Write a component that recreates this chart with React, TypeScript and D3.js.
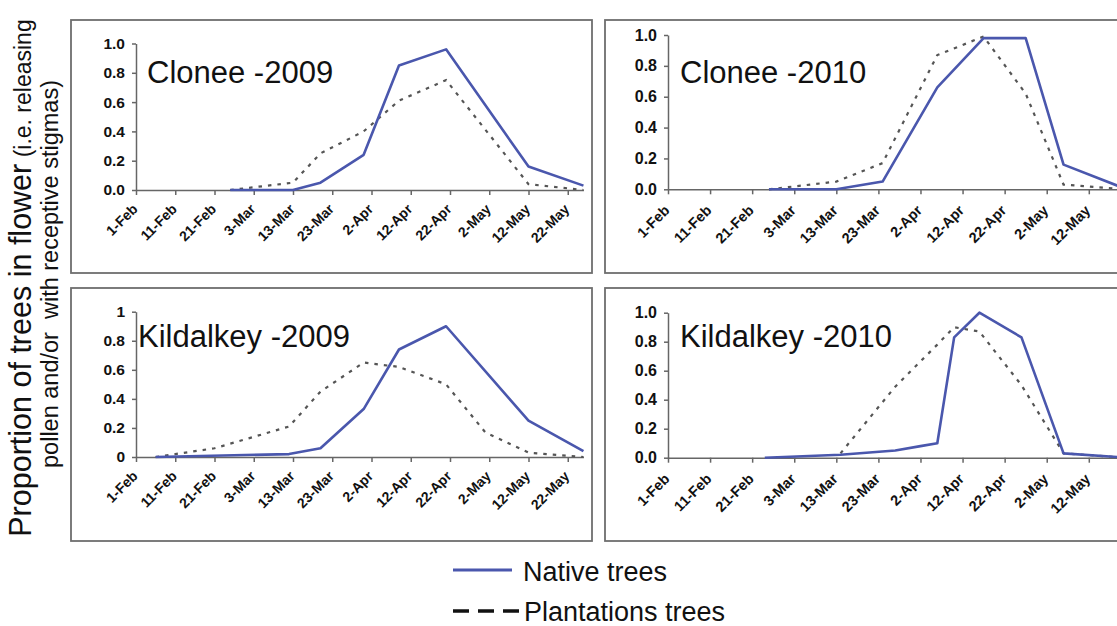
import React, { useEffect, useRef } from 'react';
import * as d3 from 'd3';

// x tick labels (every 10 days from 1-Feb)
const tickLabels = ['1-Feb', '11-Feb', '21-Feb', '3-Mar', '13-Mar', '23-Mar', '2-Apr', '12-Apr', '22-Apr', '2-May', '12-May', '22-May'];
const yTicks = [0, 0.2, 0.4, 0.6, 0.8, 1.0];

// Clonee 2009
const cloneeDates2009 = ['25-Feb', '13-Mar', '20-Mar', '31-Mar', '9-Apr', '21-Apr', '12-May', '26-May'];
const cloneeNative2009 = [0, 0, 0.05, 0.24, 0.85, 0.96, 0.16, 0.03];
const cloneePlant2009 = [0, 0.05, 0.25, 0.4, 0.61, 0.75, 0.04, 0.0];

// Clonee 2010
const cloneeDates2010 = ['25-Feb', '13-Mar', '24-Mar', '6-Apr', '17-Apr', '27-Apr', '6-May', '21-May'];
const cloneeNative2010 = [0, 0, 0.05, 0.66, 0.98, 0.98, 0.16, 0];
const cloneePlant2010 = [0, 0.05, 0.17, 0.87, 0.99, 0.62, 0.03, 0];

// Kildalkey 2009
const kildNativeDates2009 = ['6-Feb', '12-Mar', '20-Mar', '31-Mar', '9-Apr', '21-Apr', '12-May', '26-May'];
const kildNative2009 = [0, 0.02, 0.06, 0.33, 0.74, 0.9, 0.25, 0.04];
const kildPlantDates2009 = ['6-Feb', '11-Feb', '21-Feb', '12-Mar', '20-Mar', '31-Mar', '9-Apr', '21-Apr', '1-May', '12-May', '26-May'];
const kildPlant2009 = [0, 0.02, 0.06, 0.21, 0.45, 0.65, 0.62, 0.5, 0.17, 0.03, 0];

// Kildalkey 2010
const kildNativeDates2010 = ['24-Feb', '14-Mar', '27-Mar', '2-Apr', '6-Apr', '10-Apr', '16-Apr', '26-Apr', '6-May', '21-May'];
const kildNative2010 = [0, 0.02, 0.05, 0.08, 0.1, 0.83, 1.0, 0.83, 0.03, 0];
const kildPlantDates2010 = ['14-Mar', '27-Mar', '6-Apr', '10-Apr', '16-Apr', '26-Apr', '6-May', '21-May'];
const kildPlant2010 = [0.03, 0.49, 0.78, 0.9, 0.87, 0.5, 0.03, 0];

const FONT = '"Liberation Sans", Arial, Helvetica, sans-serif';
const NATIVE = '#4a57ad';
const PLANT = '#555';

// right-hand panels are cropped at the page edge, so their last tick label is not shown
const leftTicks = tickLabels;
const rightTicks = tickLabels.slice(0, 11);

const panels = [
  {
    title: 'Clonee -2009', year: 2009, ticks: leftTicks,
    nDates: cloneeDates2009, native: cloneeNative2009, pDates: cloneeDates2009, plant: cloneePlant2009,
    yFmt: '.1f', box: [71, 20, 521, 253], x0: 136, pxDay: 3.925, yTop: 43.5, yBot: 190,
    titleX: 147, titleY: 83, titleSize: 31, tickFont: 14, yFont: 15.5, labelDrop: 20,
  },
  {
    title: 'Clonee -2010', year: 2010, ticks: rightTicks,
    nDates: cloneeDates2010, native: cloneeNative2010, pDates: cloneeDates2010, plant: cloneePlant2010,
    yFmt: '.1f', box: [605, 20, 600, 253], x0: 668, pxDay: 4.208, yTop: 35, yBot: 189.3,
    titleX: 680, titleY: 83, titleSize: 31, tickFont: 14.5, yFont: 16, labelDrop: 22,
  },
  {
    title: 'Kildalkey -2009', year: 2009, ticks: leftTicks,
    nDates: kildNativeDates2009, native: kildNative2009, pDates: kildPlantDates2009, plant: kildPlant2009,
    yFmt: '~g', box: [71, 288, 521, 253], x0: 136, pxDay: 3.925, yTop: 311.7, yBot: 457,
    titleX: 138, titleY: 347, titleSize: 31, tickFont: 14, yFont: 15.5, labelDrop: 20,
  },
  {
    title: 'Kildalkey -2010', year: 2010, ticks: rightTicks,
    nDates: kildNativeDates2010, native: kildNative2010, pDates: kildPlantDates2010, plant: kildPlant2010,
    yFmt: '.1f', box: [605, 288, 600, 253], x0: 668, pxDay: 4.208, yTop: 312.7, yBot: 457.7,
    titleX: 680, titleY: 347, titleSize: 31, tickFont: 14.5, yFont: 16, labelDrop: 22,
  },
];

const parse = d3.timeParse('%d-%b-%Y');

export default function App() {
  const ref = useRef<SVGSVGElement | null>(null);

  useEffect(() => {
    const svg = d3.select(ref.current);
    svg.selectAll('*').remove();

    panels.forEach((p) => {
      const g = svg.append('g');
      const start = parse(`1-Feb-${p.year}`) as Date;
      const end = parse(`26-May-${p.year}`) as Date;
      const days = d3.timeDay.count(start, end);
      const x = d3.scaleTime().domain([start, end]).range([p.x0, p.x0 + days * p.pxDay]);
      const y = d3.scaleLinear().domain([0, 1]).range([p.yBot, p.yTop]);

      g.append('rect')
        .attr('x', p.box[0]).attr('y', p.box[1])
        .attr('width', p.box[2]).attr('height', p.box[3])
        .attr('fill', 'white').attr('stroke', '#6e6e6e').attr('stroke-width', 1.8);

      // x axis
      const xa = g.append('g')
        .attr('transform', `translate(0, ${p.yBot})`)
        .call(
          d3.axisBottom(x)
            .tickValues(p.ticks.map((t) => parse(`${t}-${p.year}`) as Date))
            .tickSize(5)
            .tickSizeOuter(0)
            .tickFormat(d3.timeFormat('%-d-%b') as any)
        );
      xa.select('.domain').attr('stroke', '#666').attr('stroke-width', 1.5);
      xa.selectAll('.tick line').attr('stroke', '#666').attr('stroke-width', 1.5);
      xa.selectAll('.tick text')
        .attr('x', 0).attr('y', 0).attr('dy', 0)
        .attr('text-anchor', 'end')
        .attr('transform', `translate(2, ${p.labelDrop}) rotate(-45)`)
        .style('font-family', FONT).style('font-weight', 'bold')
        .style('font-size', `${p.tickFont}px`).attr('fill', '#111');

      // y axis
      const ya = g.append('g')
        .attr('transform', `translate(${p.x0}, 0)`)
        .call(
          d3.axisLeft(y)
            .tickValues(yTicks)
            .tickSize(4)
            .tickSizeOuter(0)
            .tickPadding(7)
            .tickFormat(d3.format(p.yFmt) as any)
        );
      ya.select('.domain').attr('stroke', '#666').attr('stroke-width', 1.5);
      ya.selectAll('.tick line').attr('stroke', '#666').attr('stroke-width', 1.5);
      ya.selectAll('.tick text')
        .style('font-family', FONT).style('font-weight', 'bold')
        .style('font-size', `${p.yFont}px`).attr('fill', '#111');

      const line = d3.line<{ d: Date; v: number }>()
        .x((d) => x(d.d))
        .y((d) => y(d.v));

      const plantPts = p.pDates.map((t, i) => ({ d: parse(`${t}-${p.year}`) as Date, v: p.plant[i] }));
      const nativePts = p.nDates.map((t, i) => ({ d: parse(`${t}-${p.year}`) as Date, v: p.native[i] }));

      g.append('path')
        .datum(plantPts)
        .attr('d', line)
        .attr('fill', 'none')
        .attr('stroke', PLANT)
        .attr('stroke-width', 2.2)
        .attr('stroke-dasharray', '3.5 6');

      g.append('path')
        .datum(nativePts)
        .attr('d', line)
        .attr('fill', 'none')
        .attr('stroke', NATIVE)
        .attr('stroke-width', 2.6)
        .attr('stroke-linejoin', 'round');

      g.append('text')
        .attr('x', p.titleX).attr('y', p.titleY)
        .style('font-family', FONT).style('font-size', `${p.titleSize}px`)
        .attr('fill', '#111')
        .text(p.title);
    });

    // y axis title (two lines)
    const yt = svg.append('text')
      .attr('transform', 'translate(31, 278) rotate(-90)')
      .attr('text-anchor', 'middle')
      .style('font-family', FONT).attr('fill', '#111');
    yt.append('tspan').style('font-size', '30.5px').text('Proportion of trees in flower');
    yt.append('tspan').style('font-size', '23px').text(' (i.e. releasing');

    svg.append('text')
      .attr('transform', 'translate(58, 274) rotate(-90)')
      .attr('text-anchor', 'middle')
      .style('font-family', FONT).style('font-size', '23.5px').attr('fill', '#111')
      .style('white-space', 'pre')
      .text('pollen and/or  with receptive stigmas)');

    // legend
    const lg = svg.append('g');
    lg.append('line')
      .attr('x1', 453).attr('x2', 512).attr('y1', 570).attr('y2', 570)
      .attr('stroke', NATIVE).attr('stroke-width', 3);
    lg.append('text')
      .attr('x', 523).attr('y', 581)
      .style('font-family', FONT).style('font-size', '27px').attr('fill', '#111')
      .text('Native trees');
    lg.append('line')
      .attr('x1', 453).attr('x2', 520).attr('y1', 611).attr('y2', 611)
      .attr('stroke', '#111').attr('stroke-width', 3.5)
      .attr('stroke-dasharray', '16 9');
    lg.append('text')
      .attr('x', 524).attr('y', 621)
      .style('font-family', FONT).style('font-size', '27px').attr('fill', '#111')
      .text('Plantations trees');
  }, []);

  return (
    <svg
      ref={ref}
      width={1117}
      height={626}
      style={{ position: 'absolute', left: 0, top: 0, background: 'white' }}
    />
  );
}
